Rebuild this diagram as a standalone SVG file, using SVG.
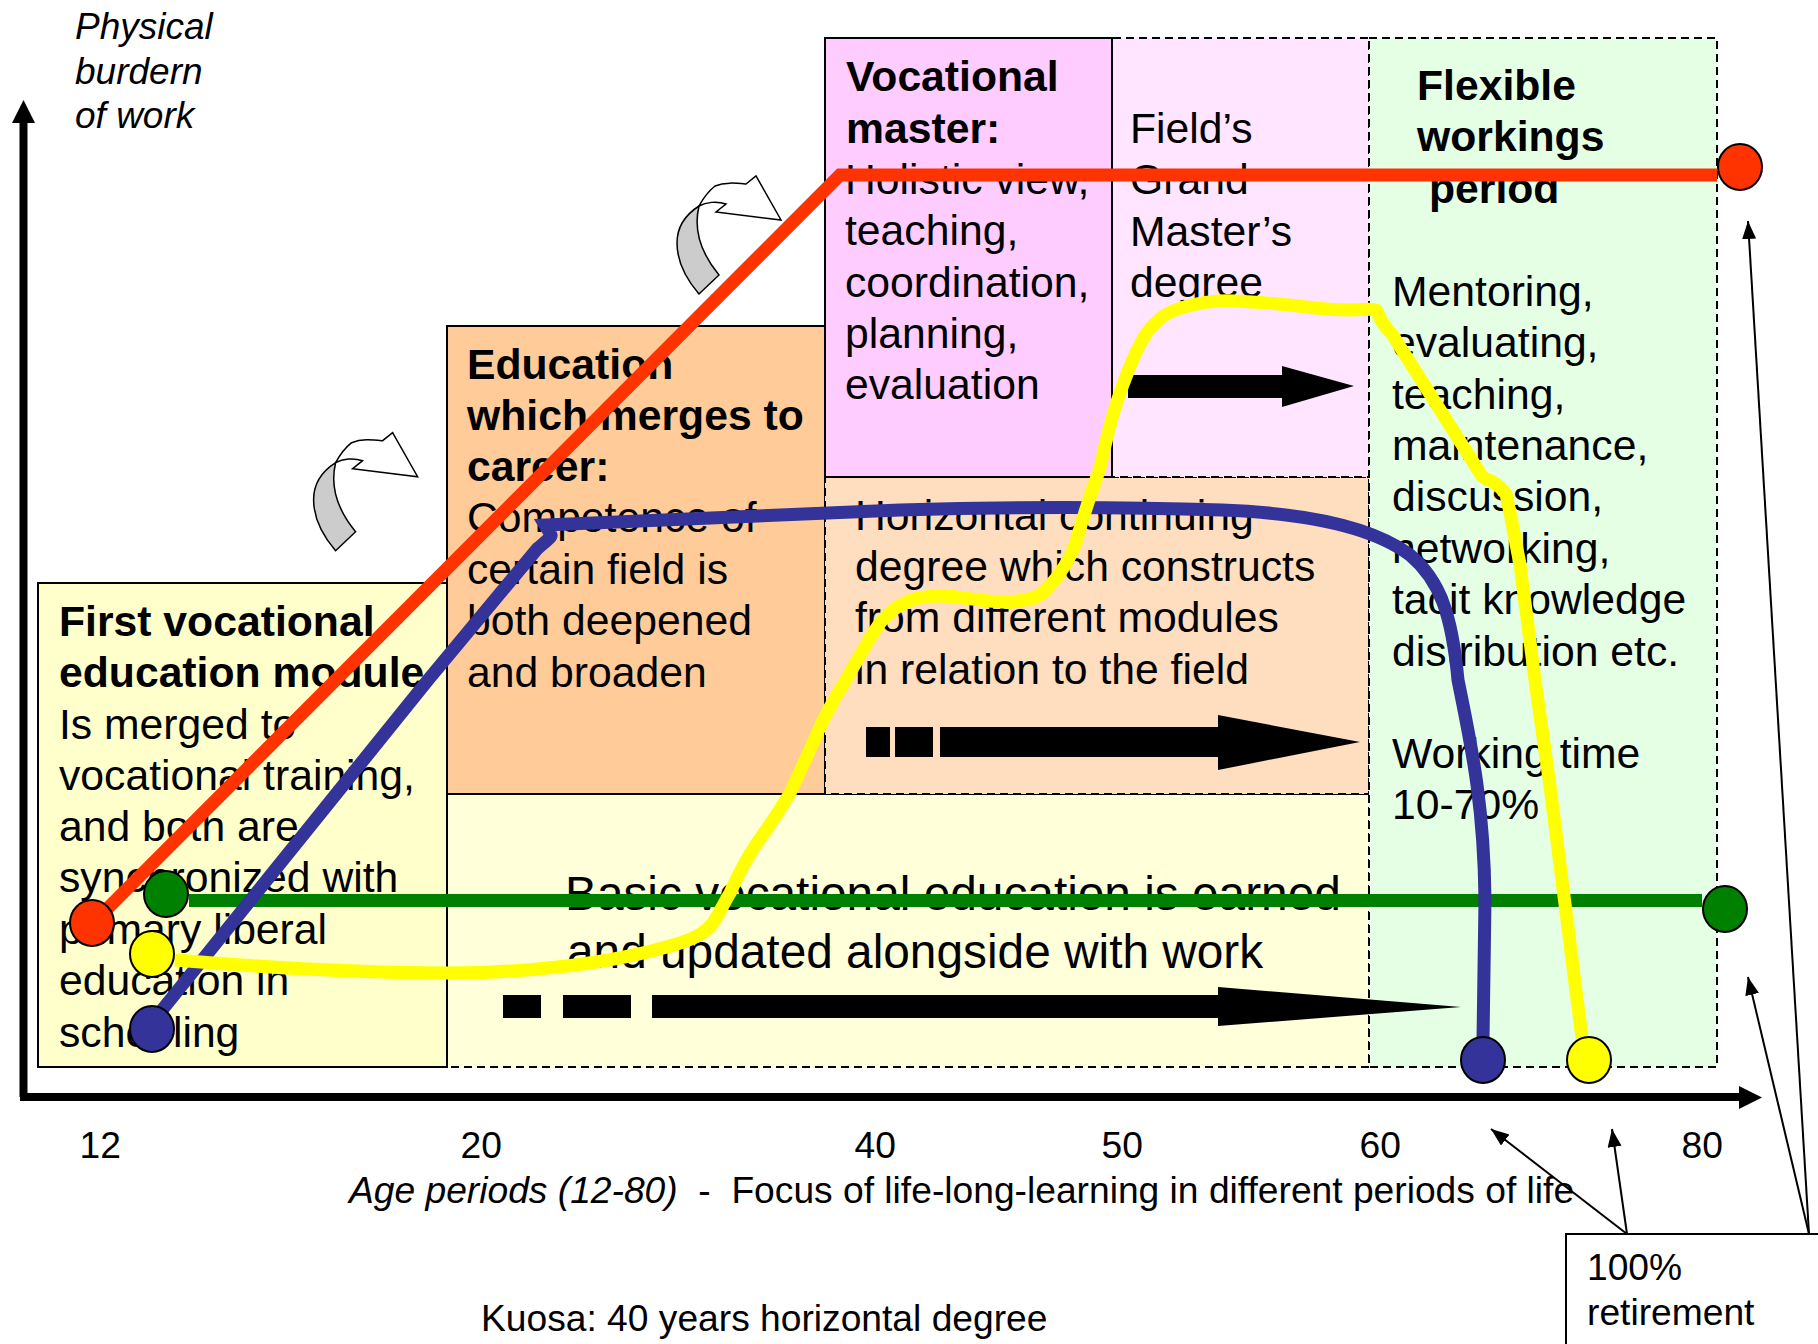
<svg xmlns="http://www.w3.org/2000/svg" width="1818" height="1344" viewBox="0 0 1818 1344">
<style>
text{font-family:"Liberation Sans",Arial,sans-serif;font-size:42.700px;fill:#000}
.b{font-weight:bold}
.i{font-style:italic;font-size:37px}
.s{font-size:37.200px}
.l{font-size:47.800px}
.box{stroke:#000;stroke-width:2}
.dash{stroke:#000;stroke-width:2;stroke-dasharray:8 5}
.curve{fill:none;stroke-width:13;stroke-linejoin:miter;stroke-linecap:butt}
.dot{stroke:#000;stroke-width:2}
.thin{stroke:#000;stroke-width:2;fill:none;marker-end:url(#tip)}
</style>
<defs>
<marker id="tip" markerUnits="userSpaceOnUse" markerWidth="20" markerHeight="16" refX="18" refY="7" orient="auto"><path d="M0 0L18 7L0 14Z" fill="#000"/></marker>
<g id="turn">
<path d="M699 206C705 195 710 190 715 186C725 182 735 183 746 184L756 176L781 220L716 212L726 204C717 201 706 202 699 206Z" fill="#fff" stroke="#000" stroke-width="1.500"/>
<path d="M699 206C685 215 677 228 677 243C677 262 687 280 699 294L719 275C705 258 692 235 699 206Z" fill="#ccc" stroke="#000" stroke-width="1.500"/>
</g>
</defs>
<g id="box-basic"><rect x="160" y="794" width="1209" height="273" fill="#FFFFD9" class="dash"/>
<text class="l" x="565" y="910">Basic vocational education is earned</text>
<text class="l" x="567" y="968">and updated alongside with work</text></g>
<g id="box-first"><rect x="38" y="583" width="409" height="484" fill="#FFFFCC" class="box"/>
<text class="b" x="59" y="636">First vocational</text>
<text class="b" x="59" y="687">education module</text>
<text x="59" y="739">Is merged to</text>
<text x="59" y="790">vocational training,</text>
<text x="59" y="841">and both are</text>
<text x="59" y="892">synchronized with</text>
<text x="59" y="944">primary liberal</text>
<text x="59" y="995">education in</text>
<text x="59" y="1047">schooling</text></g>
<g id="box-education"><rect x="447" y="326" width="378" height="468" fill="#FFCC99" class="box"/>
<text class="b" x="467" y="379">Education</text>
<text class="b" x="467" y="430">which merges to</text>
<text class="b" x="467" y="481">career:</text>
<text x="467" y="532">Competence of</text>
<text x="467" y="584">certain field is</text>
<text x="467" y="635">both deepened</text>
<text x="467" y="687">and broaden</text></g>
<g id="box-horizontal"><rect x="825" y="477" width="544" height="317" fill="#FFDDBF" class="dash"/>
<text x="855" y="530">Horizontal continuing</text>
<text x="855" y="581">degree which constructs</text>
<text x="855" y="632">from different modules</text>
<text x="855" y="684">in relation to the field</text></g>
<g id="box-grand"><rect x="1100" y="38" width="269" height="439" fill="#FFE5FF" class="dash"/>
<text x="1130" y="143">Field’s</text>
<text x="1130" y="194">Grand</text>
<text x="1130" y="246">Master’s</text>
<text x="1130" y="297">degree</text></g>
<g id="box-master"><rect x="825" y="38" width="287" height="439" fill="#FFCCFF" class="box"/>
<text class="b" x="846" y="91">Vocational</text>
<text class="b" x="846" y="143">master:</text>
<text x="845" y="194">Holistic view,</text>
<text x="845" y="245">teaching,</text>
<text x="845" y="297">coordination,</text>
<text x="845" y="348">planning,</text>
<text x="845" y="399">evaluation</text></g>
<g id="box-flexible"><rect x="1369" y="38" width="348" height="1029" fill="#E5FFE5" class="dash"/>
<text class="b" x="1417" y="100">Flexible</text>
<text class="b" x="1417" y="151">workings</text>
<text class="b" x="1429" y="203">period</text>
<text x="1392" y="306">Mentoring,</text>
<text x="1392" y="357">evaluating,</text>
<text x="1392" y="409">teaching,</text>
<text x="1392" y="460">maintenance,</text>
<text x="1392" y="511">discussion,</text>
<text x="1392" y="563">networking,</text>
<text x="1392" y="614">tacit knowledge</text>
<text x="1392" y="666">distribution etc.</text>
<text x="1392" y="768">Working time</text>
<text x="1392" y="819">10-70%</text></g>
<g id="arrow-basic"><path d="M503 995H541V1018H503ZM563 995H631V1018H563ZM652 995H1218V987L1461 1007L1218 1026V1018H652Z" fill="#000"/></g>
<g id="arrow-horizontal"><path d="M866 727H890V757H866ZM895 727H933V757H895ZM940 727H1218V715L1360 742L1218 770V757H940Z" fill="#000"/></g>
<g id="arrow-grand"><path d="M1128 375H1282V366L1354 386L1282 407V398H1128Z" fill="#000"/></g>
<g id="axes"><path d="M23.500 1097V118" stroke="#000" stroke-width="8" fill="none"/><path d="M23.500 100L35 123H12Z" fill="#000"/>
<path d="M20 1097H1742" stroke="#000" stroke-width="8" fill="none"/><path d="M1762 1097.500L1739 1086V1109Z" fill="#000"/></g>
<g id="turn-1"><use href="#turn" transform="translate(-363.400 256.700)"/></g>
<g id="turn-2"><use href="#turn"/></g>
<g id="axis-labels">
<text class="i" x="75" y="39">Physical</text><text class="i" x="75" y="84">burdern</text><text class="i" x="75" y="128">of work</text>
<text class="s" x="79.500" y="1158">12</text><text class="s" x="460.500" y="1158">20</text><text class="s" x="854.500" y="1158">40</text><text class="s" x="1101.500" y="1158">50</text><text class="s" x="1359.500" y="1158">60</text><text class="s" x="1681.500" y="1158">80</text>
<text class="s" x="349" y="1203" xml:space="preserve"><tspan font-style="italic">Age periods (12-80)</tspan>  -  Focus of life-long-learning in different periods of life</text>
<text class="s" x="481" y="1331">Kuosa: 40 years horizontal degree</text></g>
<g id="box-retirement"><rect x="1566" y="1234" width="260" height="120" fill="#fff" class="box"/>
<text class="s" x="1587" y="1280">100%</text><text class="s" x="1587" y="1325">retirement</text></g>
<g id="connectors">
<path class="curve" stroke="#FF3300" d="M92 924L840 175H1717"/>
<path class="curve" stroke="#008000" d="M189 900.500H1702"/>
<path class="curve" stroke="#333399" stroke-width="14" d="M158 1015L428 680L537 549C545 542 552 537 551 535L545 525L900 510C1000 507 1100 506 1222 510C1300 513 1370 525 1410 555C1440 580 1452 615 1458 680C1470 740 1484 800 1485 900L1483 1040"/>
<path class="curve" stroke="#FFFF00" stroke-width="14" d="M175 960C260 967 360 973 448 973C520 973 610 965 680 943C698 937 706 932 713 923C720 912 724 903 730 893C738 875 747 858 757 843C770 825 780 810 790 793C800 772 810 750 820 727C830 705 840 690 850 673C860 655 870 637 880 623C888 613 897 606 907 602C917 597 928 596 940 596C955 596 968 599 980 600C990 601 1000 603 1011 602C1030 600 1040 597 1046 590C1060 575 1070 560 1076 542C1085 510 1092 490 1100 468C1108 430 1115 405 1124 382C1132 360 1139 345 1146 334C1160 315 1170 312 1181 308C1200 302 1215 300 1234 301C1260 302 1280 304 1298 306C1320 309 1340 310 1351 310C1365 310 1375 308 1377 311C1382 325 1388 330 1392 334L1480 473C1482 478 1488 480 1491 481C1500 486 1503 490 1506 494C1512 520 1515 540 1520 564L1535 680L1550 786L1582 1038"/>
<path class="thin" d="M1627 1234L1491 1129"/>
<path class="thin" d="M1627 1234L1612 1129"/>
<path class="thin" d="M1809 1234L1748 977"/>
<path class="thin" d="M1809 1234L1748 221"/>
</g>
<g id="dot-red-start"><ellipse cx="92" cy="923" rx="22" ry="23" fill="#FF3300" class="dot"/></g>
<g id="dot-red-end"><ellipse cx="1740" cy="167" rx="22" ry="23" fill="#FF3300" class="dot"/></g>
<g id="dot-green-start"><ellipse cx="166" cy="894" rx="22" ry="23" fill="#008000" class="dot"/></g>
<g id="dot-green-end"><ellipse cx="1725" cy="909" rx="22" ry="23" fill="#008000" class="dot"/></g>
<g id="dot-yellow-start"><ellipse cx="152" cy="954" rx="22" ry="23" fill="#FFFF00" class="dot"/></g>
<g id="dot-yellow-end"><ellipse cx="1589" cy="1060" rx="22" ry="23" fill="#FFFF00" class="dot"/></g>
<g id="dot-blue-start"><ellipse cx="152" cy="1029" rx="22" ry="23" fill="#333399" class="dot"/></g>
<g id="dot-blue-end"><ellipse cx="1483" cy="1060" rx="22" ry="23" fill="#333399" class="dot"/></g>
</svg>
